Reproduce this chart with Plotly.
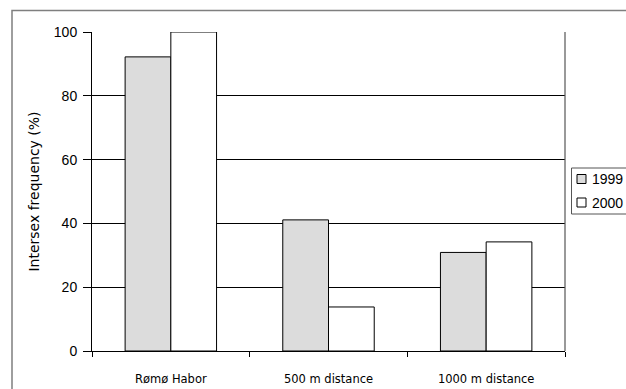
import plotly.graph_objects as go

categories = ["Rømø Habor", "500 m distance", "1000 m distance"]
series_names = ["1999", "2000"]
series_colors = ["#dcdcdc", "white"]
values_1999 = [92.2, 41.1, 30.9]
values_2000 = [100, 13.8, 34.2]
y_ticks = [0, 20, 40, 60, 80, 100]

W, H = 626, 389
L, R, T, B = 92, 61, 32, 38
pw, ph = W - L - R, H - T - B

def px(x):
    return (x - L) / pw

def py(y):
    return (H - B - y) / ph

fig = go.Figure()
for name, vals, col in zip(series_names, [values_1999, values_2000], series_colors):
    fig.add_trace(go.Bar(name=name, x=categories, y=vals, showlegend=False,
                         marker=dict(color=col, line=dict(color="black", width=1))))

# outer frame
fig.add_shape(type="rect", xref="paper", yref="paper",
              x0=px(12), x1=px(640), y0=py(400), y1=py(10.5),
              line=dict(color="#7f7f7f", width=1.5), fillcolor="rgba(0,0,0,0)", layer="below")
# right border of plot area
fig.add_shape(type="line", xref="paper", yref="paper",
              x0=1, x1=1, y0=0, y1=1, line=dict(color="#555555", width=1.2))

# legend box (drawn manually)
fig.add_shape(type="rect", xref="paper", yref="paper",
              x0=px(571.5), x1=px(640), y0=py(214), y1=py(168),
              line=dict(color="#555555", width=1), fillcolor="white")
for i, (name, col) in enumerate(zip(series_names, series_colors)):
    cy = 179 + i * 23.5
    fig.add_shape(type="rect", xref="paper", yref="paper",
                  x0=px(577), x1=px(586), y0=py(cy + 4.5), y1=py(cy - 4.5),
                  line=dict(color="black", width=1), fillcolor=col)
    fig.add_annotation(xref="paper", yref="paper", x=px(590), y=py(cy),
                       xanchor="left", yanchor="middle", showarrow=False,
                       text=name, font=dict(size=14, color="black"))

fig.update_layout(
    width=W, height=H,
    margin=dict(l=L, r=R, t=T, b=B, pad=0, autoexpand=False),
    paper_bgcolor="white", plot_bgcolor="white",
    barmode="group", bargap=0.42, bargroupgap=0,
    font=dict(family="Liberation Sans, Arial, sans-serif", color="black", size=13),
    xaxis=dict(showline=True, linecolor="black", linewidth=1,
               ticks="outside", ticklen=5, tickcolor="black", tickson="boundaries",
               showgrid=False, tickfont=dict(size=11.5, family="DejaVu Sans, sans-serif"),
               ticklabelstandoff=17),
    yaxis=dict(range=[0, 100], tickvals=y_ticks, showline=True, linecolor="black", linewidth=1,
               ticks="outside", ticklen=8, tickcolor="black",
               showgrid=True, gridcolor="black", gridwidth=1, zeroline=False,
               tickfont=dict(size=14), ticklabelstandoff=3,
               title=dict(text="Intersex frequency (%)", standoff=10,
                          font=dict(size=14, family="DejaVu Sans, sans-serif"))),
)

fig.write_html("out.html", config={"displayModeBar": False},
               post_script="document.body.style.margin='0';")
